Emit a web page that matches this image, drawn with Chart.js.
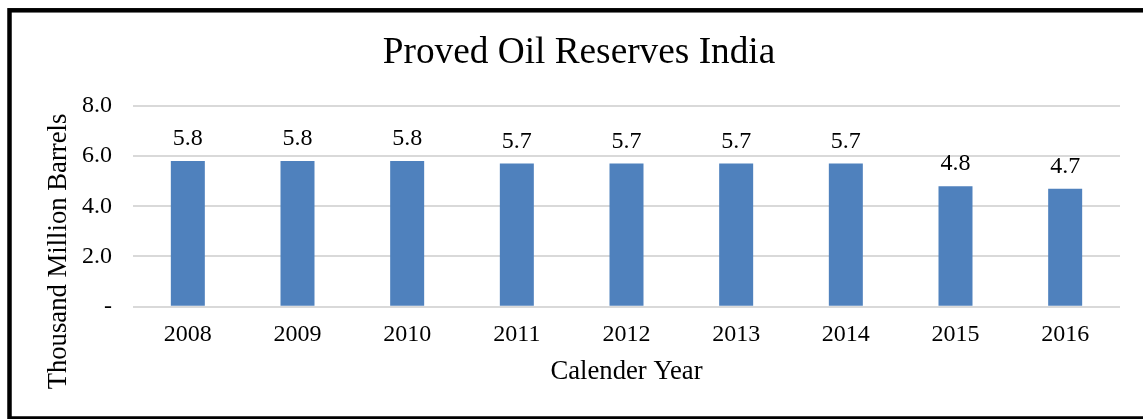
<!DOCTYPE html>
<html>
<head>
<meta charset="utf-8">
<title>Proved Oil Reserves India</title>
<script src="https://cdn.jsdelivr.net/npm/chart.js@4/dist/chart.umd.min.js"></script>
<style>
  html, body { margin: 0; padding: 0; background: #fff; }
  #wrap { width: 1143px; height: 419px; }
</style>
</head>
<body>
<div id="wrap"><canvas id="myChart" width="1143" height="419"></canvas></div>
<script>
// reserves per calendar year, thousand million barrels
const years = ['2008', '2009', '2010', '2011', '2012', '2013', '2014', '2015', '2016'];
const reserves = [5.8, 5.8, 5.8, 5.7, 5.7, 5.7, 5.7, 4.8, 4.7];
const yTickValues = [0, 2, 4, 6, 8];

const serif = "'Liberation Serif', 'Times New Roman', serif";

// black frame round the chart + the rotated y-axis title
const framePlugin = {
    id: 'frame',
    beforeDraw(chart) {
        const c = chart.ctx;
        c.save();
        c.strokeStyle = '#000';
        c.lineWidth = 4.5;
        c.strokeRect(9.5, 10.3, 1200, 408.2);
        c.restore();
    },
    afterDraw(chart) {
        const c = chart.ctx;
        c.save();
        c.translate(58.5, 251.5);
        c.rotate(-Math.PI / 2);
        c.fillStyle = '#000';
        c.font = '26.7px ' + serif;
        c.textAlign = 'center';
        c.textBaseline = 'middle';
        c.fillText('Thousand Million Barrels', 0, 0);
        c.restore();
    }
};

// value labels above each bar
const barLabels = {
    id: 'barLabels',
    afterDatasetsDraw(chart) {
        const c = chart.ctx;
        const meta = chart.getDatasetMeta(0);
        c.save();
        c.fillStyle = '#000';
        c.font = '24px ' + serif;
        c.textAlign = 'center';
        c.textBaseline = 'middle';
        meta.data.forEach(function (bar, i) {
            c.fillText(reserves[i].toFixed(1), bar.x, bar.y - 22);
        });
        c.restore();
    }
};

var ctx = document.getElementById('myChart');

var myChart = new Chart(ctx, {
    type: 'bar',
    data: {
        labels: years,
        datasets: [{
            label: 'Proved Oil Reserves',
            data: reserves,
            backgroundColor: '#4f81bd',
            borderWidth: 0,
            categoryPercentage: 1,
            barPercentage: 0.31
        }]
    },
    options: {
        responsive: false,
        animation: false,
        devicePixelRatio: 1,
        layout: { padding: { left: 15, right: 0, top: 0, bottom: 0 } },
        plugins: {
            legend: { display: false },
            tooltip: { enabled: false },
            title: {
                display: true,
                text: 'Proved Oil Reserves India',
                color: '#000',
                font: { family: serif, size: 37.3, weight: 'normal' },
                padding: { top: 31, bottom: 30 }
            }
        },
        scales: {
            x: {
                grid: { display: false, drawTicks: false },
                border: { display: false },
                ticks: {
                    color: '#000',
                    font: { family: serif, size: 24 },
                    padding: 14,
                    maxRotation: 0
                },
                title: {
                    display: true,
                    text: 'Calender Year',
                    color: '#000',
                    font: { family: serif, size: 26.7 },
                    padding: { top: 0, bottom: 31 }
                },
                afterFit: function (scale) { scale.height = 112.3; }
            },
            y: {
                min: 0,
                max: 8,
                grid: { color: '#d9d9d9', lineWidth: 2, drawTicks: false },
                border: { display: false },
                afterBuildTicks: function (scale) {
                    scale.ticks = yTickValues.map(v => ({ value: v }));
                },
                ticks: {
                    color: '#000',
                    font: { family: serif, size: 24 },
                    padding: 21,
                    callback: function (v) { return v === 0 ? '-' : v.toFixed(1); }
                },
                afterFit: function (scale) { scale.width = 118; }
            },
            // empty spacer on the right so the plot stops short of the edge
            y2: {
                type: 'linear',
                position: 'right',
                grid: { display: false },
                border: { display: false },
                ticks: { display: false },
                afterFit: function (scale) { scale.width = 23; }
            }
        }
    },
    plugins: [framePlugin, barLabels]
});
</script>
</body>
</html>
